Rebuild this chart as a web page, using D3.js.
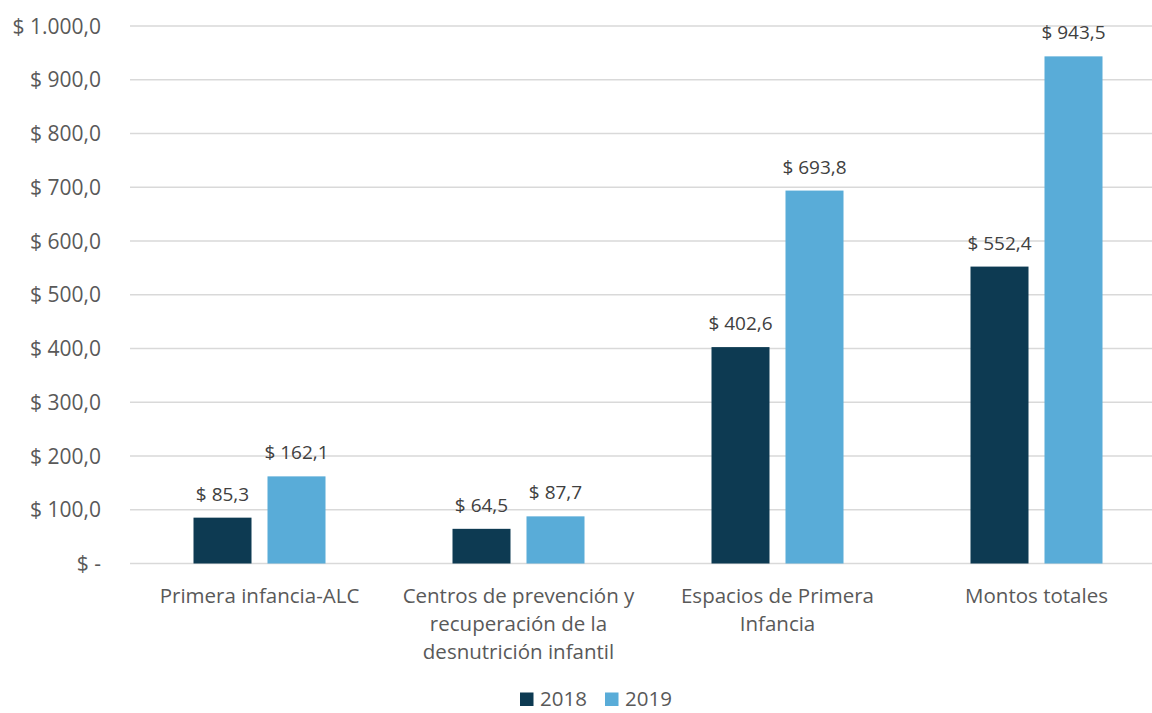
<!DOCTYPE html>
<html lang="es">
<head>
    <meta charset="UTF-8">
    <title>Montos 2018 - 2019</title>
    <script src="https://d3js.org/d3.v7.min.js"></script>
    <style>
        body { margin: 0; background: #fff; }
        text { font-family: "Open Sans", sans-serif; }
        .tick-label { font-size: 21px; fill: #595959; }
        .cat-label { font-size: 20.5px; fill: #595959; }
        .value-label { font-size: 19px; fill: #404040; }
        .legend-label { font-size: 20.5px; fill: #595959; }
    </style>
</head>
<body>
    <script>
        // Data
        const categories = [
            "Primera infancia-ALC",
            "Centros de prevención y recuperación de la desnutrición infantil",
            "Espacios de Primera Infancia",
            "Montos totales"
        ];
        const seriesNames = ["2018", "2019"];
        const values2018 = [85.3, 64.5, 402.6, 552.4];
        const values2019 = [162.1, 87.7, 693.8, 943.5];
        const yTicks = [0, 100, 200, 300, 400, 500, 600, 700, 800, 900, 1000];
        const colors = ["#0d3a52", "#59acd8"];

        const width = 1152;
        const height = 713;
        const plot = { left: 130, right: 1166, top: 26, bottom: 563.5 };

        const locale = d3.formatLocale({ decimal: ",", thousands: ".", grouping: [3], currency: ["$", ""] });
        const fmt = locale.format(",.1f");
        const money = d => d === 0 ? "$ -" : "$ " + fmt(d);

        const svg = d3.select("body").append("svg")
            .attr("width", width)
            .attr("height", height);

        const y = d3.scaleLinear()
            .domain([0, 1000])
            .range([plot.bottom, plot.top]);

        const x = d3.scaleBand()
            .domain(categories)
            .range([plot.left, plot.right])
            .padding(0);

        // bars sit in the middle of each band
        const xInner = d3.scaleBand()
            .domain(seriesNames)
            .range([63.5, 195.5])
            .paddingInner(16 / 74)
            .paddingOuter(0);

        // Gridlines + y labels
        const grid = svg.append("g");
        grid.selectAll("line")
            .data(yTicks)
            .enter().append("line")
            .attr("x1", plot.left)
            .attr("x2", plot.right)
            .attr("y1", d => y(d))
            .attr("y2", d => y(d))
            .attr("stroke", "#d9d9d9")
            .attr("stroke-width", 1.3);

        grid.selectAll("text")
            .data(yTicks)
            .enter().append("text")
            .attr("class", "tick-label")
            .attr("x", 101)
            .attr("y", d => y(d))
            .attr("dy", "0.36em")
            .attr("text-anchor", "end")
            .text(money);

        // Bars
        const rows = categories.map((c, i) => ({
            cat: c,
            vals: [
                { s: seriesNames[0], v: values2018[i] },
                { s: seriesNames[1], v: values2019[i] }
            ]
        }));

        const group = svg.selectAll("g.cat")
            .data(rows)
            .enter().append("g")
            .attr("class", "cat")
            .attr("transform", d => `translate(${x(d.cat)},0)`);

        group.selectAll("rect")
            .data(d => d.vals)
            .enter().append("rect")
            .attr("x", d => xInner(d.s))
            .attr("width", xInner.bandwidth())
            .attr("y", d => y(d.v))
            .attr("height", d => y(0) - y(d.v))
            .attr("fill", (d, i) => colors[i]);

        group.selectAll("text.value-label")
            .data(d => d.vals)
            .enter().append("text")
            .attr("class", "value-label")
            .attr("x", d => xInner(d.s) + xInner.bandwidth() / 2)
            .attr("y", d => y(d.v) - 17)
            .attr("text-anchor", "middle")
            .text(d => money(d.v));

        // Category labels, wrapped
        const catText = svg.selectAll("text.cat-label")
            .data(categories)
            .enter().append("text")
            .attr("class", "cat-label")
            .attr("text-anchor", "middle")
            .attr("x", d => x(d) + x.bandwidth() / 2)
            .attr("y", 603);

        catText.each(function (d) {
            const el = d3.select(this);
            const words = d.split(" ");
            let line = [];
            let tspan = el.append("tspan").attr("x", el.attr("x")).attr("dy", 0);
            words.forEach(w => {
                line.push(w);
                tspan.text(line.join(" "));
                if (tspan.node().getComputedTextLength() > 250 && line.length > 1) {
                    line.pop();
                    tspan.text(line.join(" "));
                    line = [w];
                    tspan = el.append("tspan").attr("x", el.attr("x")).attr("dy", 28).text(w);
                }
            });
        });

        // Legend at the bottom edge
        const legend = svg.append("g");
        const legendX = [520, 605];
        seriesNames.forEach((s, i) => {
            legend.append("rect")
                .attr("x", legendX[i])
                .attr("y", 692.5)
                .attr("width", 13.5)
                .attr("height", 13.5)
                .attr("fill", colors[i]);
            legend.append("text")
                .attr("class", "legend-label")
                .attr("x", legendX[i] + 20)
                .attr("y", 706)
                .text(s);
        });
    </script>
</body>
</html>
